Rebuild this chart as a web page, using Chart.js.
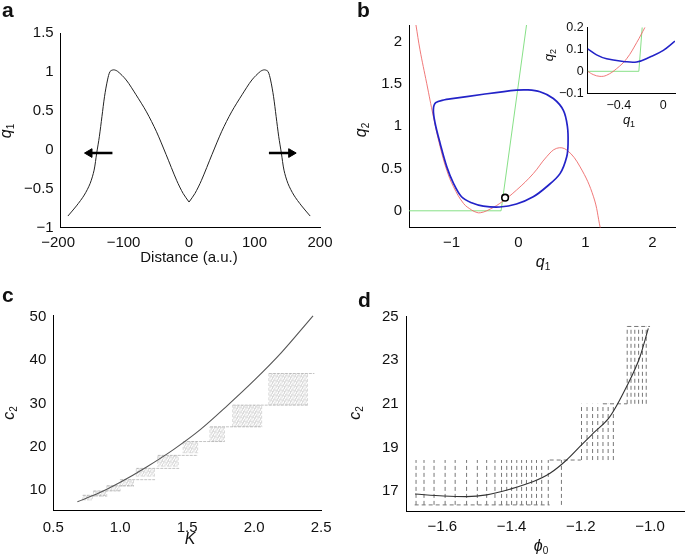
<!DOCTYPE html>
<html>
<head>
<meta charset="utf-8">
<script src="https://cdn.jsdelivr.net/npm/chart.js"></script>
<style>
  body { margin:0; padding:0; background:#fff; }
  #fig { position:relative; width:685px; height:556px; overflow:hidden;
         font-family:"Liberation Sans", Arial, Helvetica, sans-serif; color:#111; }
  canvas { position:absolute; }
  .lbl { position:absolute; font-weight:bold; font-size:21px; line-height:20px; }
  .ttl { position:absolute; font-size:15px; line-height:16px; white-space:nowrap; transform:translate(-50%,-50%); }
  .ttl.rot { transform:translate(-50%,-50%) rotate(-90deg); }
  .ttl i { font-size:16px; }
  .ttl sub { font-size:10px; vertical-align:-3px; }
  .ttl.small i { font-size:13px; }
  .ttl.small sub { font-size:9px; }
</style>
</head>
<body>
<div id="fig">
  <canvas id="ca" width="340" height="280" style="left:0;top:0"></canvas>
  <canvas id="cb" width="345" height="280" style="left:340px;top:0"></canvas>
  <canvas id="cbi" width="145" height="135" style="left:540px;top:0"></canvas>
  <canvas id="cc" width="340" height="276" style="left:0;top:280px"></canvas>
  <canvas id="cd" width="345" height="276" style="left:340px;top:280px"></canvas>

  <div class="lbl" style="left:2px;top:0">a</div>
  <div class="lbl" style="left:357px;top:0">b</div>
  <div class="lbl" style="left:2px;top:285px">c</div>
  <div class="lbl" style="left:358px;top:290px">d</div>

  <div class="ttl" style="left:189px;top:257px">Distance (a.u.)</div>
  <div class="ttl rot" style="left:8px;top:131px"><i>q</i><sub>1</sub></div>
  <div class="ttl" style="left:543px;top:264px"><i>q</i><sub>1</sub></div>
  <div class="ttl rot" style="left:363px;top:130px"><i>q</i><sub>2</sub></div>
  <div class="ttl small" style="left:629px;top:121px"><i>q</i><sub>1</sub></div>
  <div class="ttl rot small" style="left:550px;top:55px"><i>q</i><sub>2</sub></div>
  <div class="ttl" style="left:190px;top:539px"><i>K</i></div>
  <div class="ttl rot" style="left:11px;top:413px"><i>c</i><sub>2</sub></div>
  <div class="ttl" style="left:541px;top:548px"><i>ϕ</i><sub>0</sub></div>
  <div class="ttl rot" style="left:357px;top:413px"><i>c</i><sub>2</sub></div>
</div>
<script>
const FONT = '"Liberation Sans", Arial, Helvetica, sans-serif';

// ---- panel a: q1 profile vs distance
const aXTicks = [-200, -100, 0, 100, 200];
const aXLabels = ['−200', '−100', '0', '100', '200'];
const aYTicks = [-1, -0.5, 0, 0.5, 1, 1.5];
const aYLabels = ['−1', '−0.5', '0', '0.5', '1', '1.5'];
const aLeftX = [-185, -172, -160, -151, -145, -141, -137, -133, -129, -124.5, -120.5, -115, -109, -96, -81, -65, -50, -35, -19, -9, 0];
const aLeftY = [-0.85, -0.72, -0.58, -0.43, -0.26, -0.04, 0.17, 0.43, 0.69, 0.90, 1.01, 1.03, 1.01, 0.90, 0.71, 0.49, 0.24, -0.06, -0.39, -0.56, -0.67];
const aRightX = [0, 9, 19, 35, 50, 65, 81, 96, 109, 115, 120.5, 124.5, 129, 133, 137, 141, 145, 151, 160, 172, 185];
const aRightY = [-0.67, -0.56, -0.39, -0.06, 0.24, 0.49, 0.71, 0.90, 1.01, 1.03, 1.01, 0.90, 0.69, 0.43, 0.17, -0.04, -0.26, -0.43, -0.58, -0.72, -0.85];
const arrowLeftX = [-117, -152];
const arrowRightX = [122, 156];
const arrowY = [-0.04, -0.04];

// ---- panel b: phase plane
const bXTicks = [-1, 0, 1, 2];
const bXLabels = ['−1', '0', '1', '2'];
const bYTicks = [0, 0.5, 1, 1.5, 2];
const bYLabels = ['0', '0.5', '1', '1.5', '2'];
const bCycleX = [-1.02, -0.525, -0.03, 0.12, 0.32, 0.52, 0.67, 0.73, 0.74, 0.72, 0.62, 0.42, 0.22, -0.03, -0.28, -0.525, -0.70, -0.85, -0.97, -1.07, -1.17, -1.245, -1.27, -1.235, -1.1, -1.02, -0.525];
const bCycleY = [1.325, 1.38, 1.428, 1.432, 1.41, 1.33, 1.19, 1.0, 0.80, 0.64, 0.44, 0.285, 0.166, 0.08, 0.045, 0.056, 0.095, 0.166, 0.325, 0.52, 0.80, 1.04, 1.2, 1.28, 1.315, 1.325, 1.38];
const bNullRedX = [-1.53, -1.47, -1.37, -1.27, -1.17, -1.07, -0.97, -0.82, -0.70, -0.62, -0.57, -0.475, -0.28, -0.03, 0.22, 0.42, 0.57, 0.72, 0.92, 1.12, 1.22];
const bNullRedY = [2.2, 1.906, 1.51, 1.115, 0.76, 0.48, 0.285, 0.087, 0.01, -0.02, -0.023, 0, 0.087, 0.245, 0.44, 0.64, 0.74, 0.72, 0.52, 0.166, -0.2];
const bNullGreenX = [-1.634, -0.26, 0.12];
const bNullGreenY = [0, 0, 2.2];
const bFixedX = [-0.2];
const bFixedY = [0.155];

// ---- panel b inset
const iXTicks = [-0.4, 0];
const iXLabels = ['−0.4', '0'];
const iYTicks = [-0.1, 0, 0.1, 0.2];
const iYLabels = ['−0.1', '0', '0.1', '0.2'];
const iCycleX = [-0.68, -0.6, -0.51, -0.36, -0.24, -0.12, 0, 0.105];
const iCycleY = [0.102, 0.075, 0.057, 0.045, 0.042, 0.065, 0.095, 0.137];
const iRedX = [-0.68, -0.63, -0.57, -0.51, -0.42, -0.33, -0.24, -0.165];
const iRedY = [0, -0.015, -0.023, -0.018, 0.012, 0.057, 0.13, 0.2];
const iGreenX = [-0.68, -0.22, -0.19];
const iGreenY = [0, 0, 0.2];

// ---- panel c: c2 vs K
const cXTicks = [0.5, 1.0, 1.5, 2.0, 2.5];
const cXLabels = ['0.5', '1.0', '1.5', '2.0', '2.5'];
const cYTicks = [10, 20, 30, 40, 50];
const cYLabels = ['10', '20', '30', '40', '50'];
const cCurveK = [0.68, 0.84, 1.0, 1.2, 1.4, 1.6, 1.8, 2.0, 2.2, 2.44];
const cCurveC = [7.3, 9.3, 11.8, 15.4, 19.4, 24.0, 29.5, 35.3, 41.6, 50.2];
const cBlockStart = [0.72, 0.80, 0.90, 1.00, 1.12, 1.28, 1.47, 1.67, 1.84, 2.11];
const cBlockEnd   = [0.80, 0.90, 1.00, 1.10, 1.26, 1.44, 1.58, 1.78, 2.06, 2.40];
const cBlockLow   = [7.6, 8.4, 9.8, 10.8, 13.1, 15.4, 18.5, 21.2, 24.6, 29.6];
const cBlockHigh  = [8.8, 9.8, 11.0, 12.4, 15.0, 18.0, 21.2, 24.6, 29.6, 36.9];
const cTopEnd = 2.45;
const cHatchStep = 0.009;

// ---- panel d: c2 vs phi0
const dXTicks = [-1.6, -1.4, -1.2, -1.0];
const dXLabels = ['−1.6', '−1.4', '−1.2', '−1.0'];
const dYTicks = [17, 19, 21, 23, 25];
const dYLabels = ['17', '19', '21', '23', '25'];
const dCurveX = [-1.679, -1.597, -1.53, -1.472, -1.405, -1.337, -1.289, -1.241, -1.203, -1.164, -1.116, -1.068, -1.029, -1.005];
const dCurveY = [16.86, 16.77, 16.74, 16.82, 17.08, 17.43, 17.81, 18.42, 19.03, 19.65, 20.41, 21.78, 23.16, 24.46];
const dColX = [-1.676, -1.653, -1.624, -1.592, -1.563, -1.53, -1.499, -1.472, -1.448, -1.429, -1.414, -1.4, -1.385, -1.371, -1.357, -1.342, -1.328, -1.313, -1.294, -1.256,
               -1.198, -1.182, -1.166, -1.151, -1.136, -1.121, -1.106,
               -1.066, -1.055, -1.044, -1.033, -1.022, -1.011];
const dColLow = [16.36, 16.36, 16.36, 16.36, 16.36, 16.36, 16.36, 16.36, 16.36, 16.36, 16.36, 16.36, 16.36, 16.36, 16.36, 16.36, 16.36, 16.36, 16.36, 16.36,
                 18.42, 18.42, 18.42, 18.42, 18.42, 18.42, 18.42,
                 21.0, 21.0, 21.0, 21.0, 21.0, 21.0];
const dColHigh = [18.42, 18.42, 18.42, 18.42, 18.42, 18.42, 18.42, 18.42, 18.42, 18.42, 18.42, 18.42, 18.42, 18.42, 18.42, 18.42, 18.42, 18.42, 18.42, 18.42,
                  21.0, 21.0, 21.0, 21.0, 21.0, 21.0, 21.0,
                  24.55, 24.55, 24.55, 24.55, 24.55, 24.55];
const dStepX1 = [-1.68, -1.29, -1.136, -1.066];
const dStepX2 = [-1.29, -1.2, -1.066, -1.0];
const dStepY = [16.36, 18.42, 21.0, 24.55];

// ---- helpers
function pts(xs, ys) { return xs.map((x, i) => ({ x: x, y: ys[i] })); }
function segs(x1, y1, x2, y2) {
  const out = [];
  x1.forEach((x, i) => { out.push({ x: x, y: y1[i] }, { x: x2[i], y: y2[i] }, { x: x2[i], y: null }); });
  return out;
}
function line(data, color, width, extra) {
  return Object.assign({ data: data, showLine: true, borderColor: color, borderWidth: width,
    pointRadius: 0, fill: false, tension: 0 }, extra || {});
}
function axis(min, max, ticks, labels, size, pad, fontSize) {
  return {
    type: 'linear', min: min, max: max, bounds: 'data',
    grid: { display: false, drawTicks: false },
    border: { display: true, color: '#000', width: 1 },
    afterBuildTicks: s => { s.ticks = ticks.map(v => ({ value: v })); },
    afterFit: s => { if (s.isHorizontal()) s.height = size; else s.width = size; },
    ticks: { callback: (v, i) => labels[i], color: '#111', padding: pad, autoSkip: false,
             maxRotation: 0, font: { family: FONT, size: fontSize || 15 } }
  };
}
function makeChart(id, pad, xs, ys, datasets) {
  return new Chart(document.getElementById(id), {
    type: 'scatter',
    data: { datasets: datasets },
    options: {
      responsive: false, animation: false, events: [],
      layout: { padding: pad },
      plugins: { legend: { display: false }, tooltip: { enabled: false } },
      scales: { x: xs, y: ys }
    }
  });
}

// c hatching: vertical dashed columns inside each block, spread over 5 dash phases
const hatchPhase = [0, 2.1, 0.8, 3.2, 1.5];
const cHatch = hatchPhase.map(() => [[], [], []]); // group -> [x, low, high]
let hatchIdx = 0;
cBlockStart.forEach((k0, b) => {
  for (let k = k0; k <= cBlockEnd[b] + 1e-9; k += cHatchStep) {
    const g = cHatch[hatchIdx % hatchPhase.length];
    g[0].push(k); g[1].push(cBlockLow[b]); g[2].push(cBlockHigh[b]);
    hatchIdx++;
  }
});
const cStepX2 = cBlockEnd.slice(1).concat([cTopEnd]);
const hatchSets = cHatch.map((g, i) => line(segs(g[0], g[1], g[0], g[2]), 'rgba(150,150,150,0.55)', 0.7,
  { borderDash: [3, 1.8], borderDashOffset: hatchPhase[i] }));

// ---- a
makeChart('ca', { left: 0, top: 33.3, right: 20, bottom: 0 },
  axis(-196, 200, aXTicks, aXLabels, 52.3, 6),
  axis(-1, 1.5, aYTicks, aYLabels, 60.7, 7),
  [
    line(pts(arrowLeftX, arrowY), '#000', 2.5, { pointRadius: [0, 5], pointStyle: 'triangle', pointRotation: [0, -90],
      pointBackgroundColor: '#000', pointBorderColor: '#000', pointBorderWidth: 1 }),
    line(pts(arrowRightX, arrowY), '#000', 2.5, { pointRadius: [0, 5], pointStyle: 'triangle', pointRotation: [0, 90],
      pointBackgroundColor: '#000', pointBorderColor: '#000', pointBorderWidth: 1 }),
    line(pts(aLeftX, aLeftY), '#222', 1, { tension: 0.3 }),
    line(pts(aRightX, aRightY), '#222', 1, { tension: 0.3 })
  ]);

// ---- b
makeChart('cb', { left: 0, top: 25, right: 10, bottom: 0 },
  axis(-1.634, 2.336, bXTicks, bXLabels, 52.3, 6),
  axis(-0.2, 2.2, bYTicks, bYLabels, 69, 7),
  [
    line(pts(bFixedX, bFixedY), '#000', 0, { showLine: false, pointRadius: 3.3, pointBorderWidth: 1.6,
      pointBorderColor: '#000', pointBackgroundColor: '#fff' }),
    line(pts(bCycleX, bCycleY), '#2323c8', 1.7, { tension: 0.35 }),
    line(pts(bNullRedX, bNullRedY), '#ee6a6a', 0.9, { tension: 0.4 }),
    line(pts(bNullGreenX, bNullGreenY), '#79dd79', 0.9)
  ]);

// ---- b inset
makeChart('cbi', { left: 0, top: 27.3, right: 10, bottom: 0 },
  axis(-0.68, 0.105, iXTicks, iXLabels, 41.7, 5, 12.5),
  axis(-0.1, 0.2, iYTicks, iYLabels, 47.7, 4, 12.5),
  [
    line(pts(iCycleX, iCycleY), '#2323c8', 1.5, { tension: 0.4 }),
    line(pts(iRedX, iRedY), '#ee6a6a', 0.9, { tension: 0.4 }),
    line(pts(iGreenX, iGreenY), '#79dd79', 0.9)
  ]);

// ---- c
makeChart('cc', { left: 0, top: 35, right: 15, bottom: 0 },
  axis(0.5, 2.5, cXTicks, cXLabels, 46, 8.5),
  axis(5.4, 50.4, cYTicks, cYLabels, 53.3, 7),
  [
    line(pts(cCurveK, cCurveC), '#555', 1.1, { cubicInterpolationMode: 'monotone' }),
    line(segs(cBlockStart, cBlockHigh, cStepX2, cBlockHigh), 'rgba(130,130,130,0.6)', 0.8, { borderDash: [3, 1] })
  ].concat(hatchSets));

// ---- d
makeChart('cd', { left: 0, top: 36, right: 0, bottom: 0 },
  axis(-1.703, -0.899, dXTicks, dXLabels, 45, 7),
  axis(16.08, 25.03, dYTicks, dYLabels, 66.7, 8),
  [
    line(pts(dCurveX, dCurveY), '#333', 1.1, { cubicInterpolationMode: 'monotone' }),
    line(segs(dStepX1, dStepY, dStepX2, dStepY), '#777', 1, { borderDash: [4, 3] }),
    line(segs(dColX, dColLow, dColX, dColHigh), '#777', 1, { borderDash: [4, 3] })
  ]);
</script>
</body>
</html>
